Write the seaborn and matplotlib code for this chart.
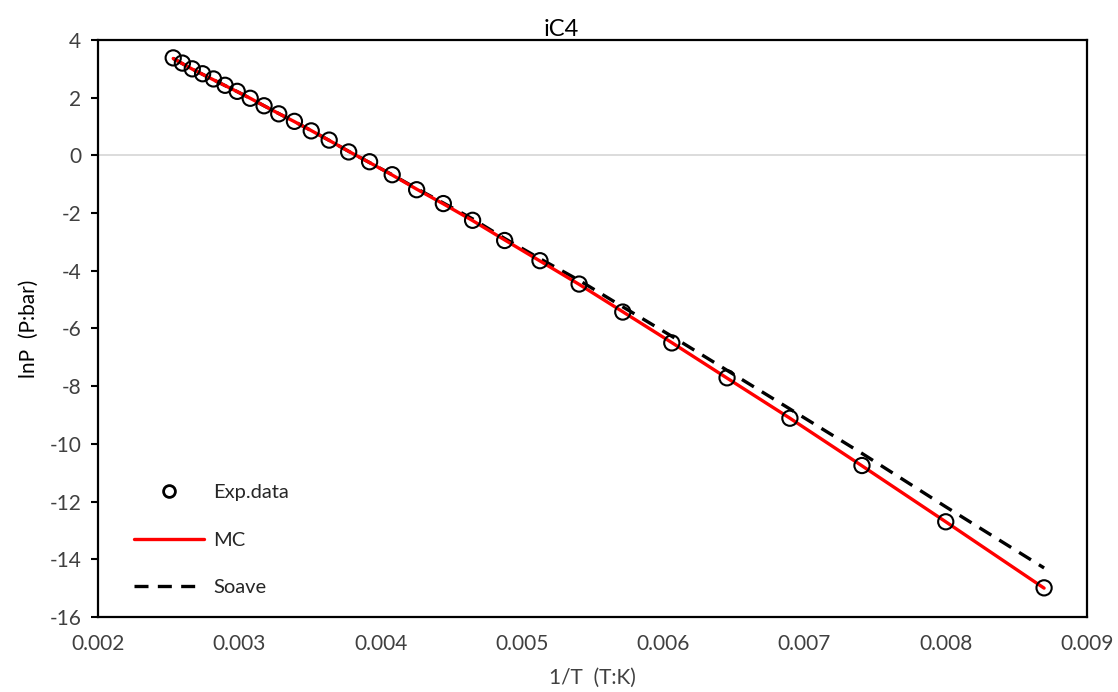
import matplotlib
matplotlib.use("Agg")
import matplotlib.pyplot as plt
import seaborn as sns
import pandas as pd
from matplotlib.lines import Line2D

# Reciprocal temperature, 1/T (T in K)
inv_T = [0.002532, 0.002597, 0.002667, 0.002740, 0.002817, 0.002899, 0.002985,
         0.003077, 0.003175, 0.003279, 0.003390, 0.003509, 0.003636, 0.003774,
         0.003922, 0.004082, 0.004255, 0.004444, 0.004651, 0.004878, 0.005128,
         0.005405, 0.005714, 0.006061, 0.006452, 0.006897, 0.007407, 0.008000,
         0.008696]

# ln P (P in bar): experimental data
lnP_exp = [3.38, 3.20, 3.00, 2.83, 2.65, 2.43, 2.22, 1.98, 1.72, 1.44, 1.18, 0.85,
           0.53, 0.12, -0.22, -0.67, -1.19, -1.67, -2.25, -2.95, -3.65, -4.46,
           -5.43, -6.50, -7.71, -9.11, -10.75, -12.70, -14.99]

# ln P: MC model
lnP_mc = [3.36, 3.18, 2.99, 2.81, 2.62, 2.42, 2.21, 1.98, 1.72, 1.45, 1.17, 0.86,
          0.52, 0.14, -0.25, -0.68, -1.17, -1.68, -2.26, -2.93, -3.66, -4.47,
          -5.42, -6.49, -7.72, -9.11, -10.76, -12.70, -15.00]

# ln P: Soave model
lnP_soave = [3.36, 3.18, 2.99, 2.81, 2.62, 2.42, 2.21, 1.98, 1.72, 1.45, 1.17, 0.86,
             0.52, 0.14, -0.25, -0.67, -1.15, -1.65, -2.20, -2.88, -3.58, -4.33,
             -5.25, -6.27, -7.45, -8.79, -10.33, -12.18, -14.30]

df = pd.DataFrame({"x": inv_T, "exp": lnP_exp, "mc": lnP_mc, "soave": lnP_soave})

sns.set_theme(style="white")
plt.rcParams["font.family"] = ["Lato", "DejaVu Sans"]
plt.rcParams["axes.unicode_minus"] = False

DASH = (0, (4.2, 2.8))

fig = plt.figure(figsize=(11.18, 6.92), dpi=100)
ax = fig.add_axes([0.0877, 0.1084, 0.8846, 0.8338])

ax.axhline(0, color="#d9d9d9", lw=1.3, zorder=0)

sns.lineplot(data=df, x="x", y="soave", ax=ax, color="black", lw=2.4,
             linestyle=DASH, zorder=2)
sns.lineplot(data=df, x="x", y="mc", ax=ax, color="#ff0000", lw=2.4, zorder=3)
sns.scatterplot(data=df, x="x", y="exp", ax=ax, marker="o", s=120,
                facecolor="none", edgecolor="black", linewidth=1.5, zorder=4)

ax.set_xlim(0.002, 0.009)
ax.set_ylim(-16, 4)
ax.set_xticks([0.002, 0.003, 0.004, 0.005, 0.006, 0.007, 0.008, 0.009])
ax.set_xticklabels(["0.002", "0.003", "0.004", "0.005", "0.006", "0.007", "0.008", "0.009"])
ax.set_yticks(range(-16, 5, 2))

for sp in ax.spines.values():
    sp.set_color("black")
    sp.set_linewidth(1.6)

ax.tick_params(axis="y", direction="out", length=5, width=1.5, colors="black",
               labelsize=15, labelcolor="#404040", pad=7, left=True)
ax.tick_params(axis="x", length=0, labelsize=15, labelcolor="#404040", pad=12)

ax.set_xlabel("1/T  (T:K)", fontsize=15, color="#404040", labelpad=10)
ax.set_ylabel("lnP  (P:bar)", fontsize=15, color="black", labelpad=8)
ax.set_title("iC4", fontsize=17, color="black", pad=3, x=0.468)

handles = [
    Line2D([], [], ls="none", marker="o", markersize=8.5, markerfacecolor="none",
           markeredgecolor="black", markeredgewidth=2),
    Line2D([], [], color="#ff0000", lw=2.4),
    Line2D([], [], color="black", lw=2.4, ls=DASH),
]
ax.legend(handles, ["Exp.data", "MC", "Soave"], loc="lower left",
          bbox_to_anchor=(0.018, 0.005), frameon=False, fontsize=14.5,
          handlelength=3.5, labelspacing=1.5, handletextpad=0.45)

fig.savefig("out.png", dpi=100)
